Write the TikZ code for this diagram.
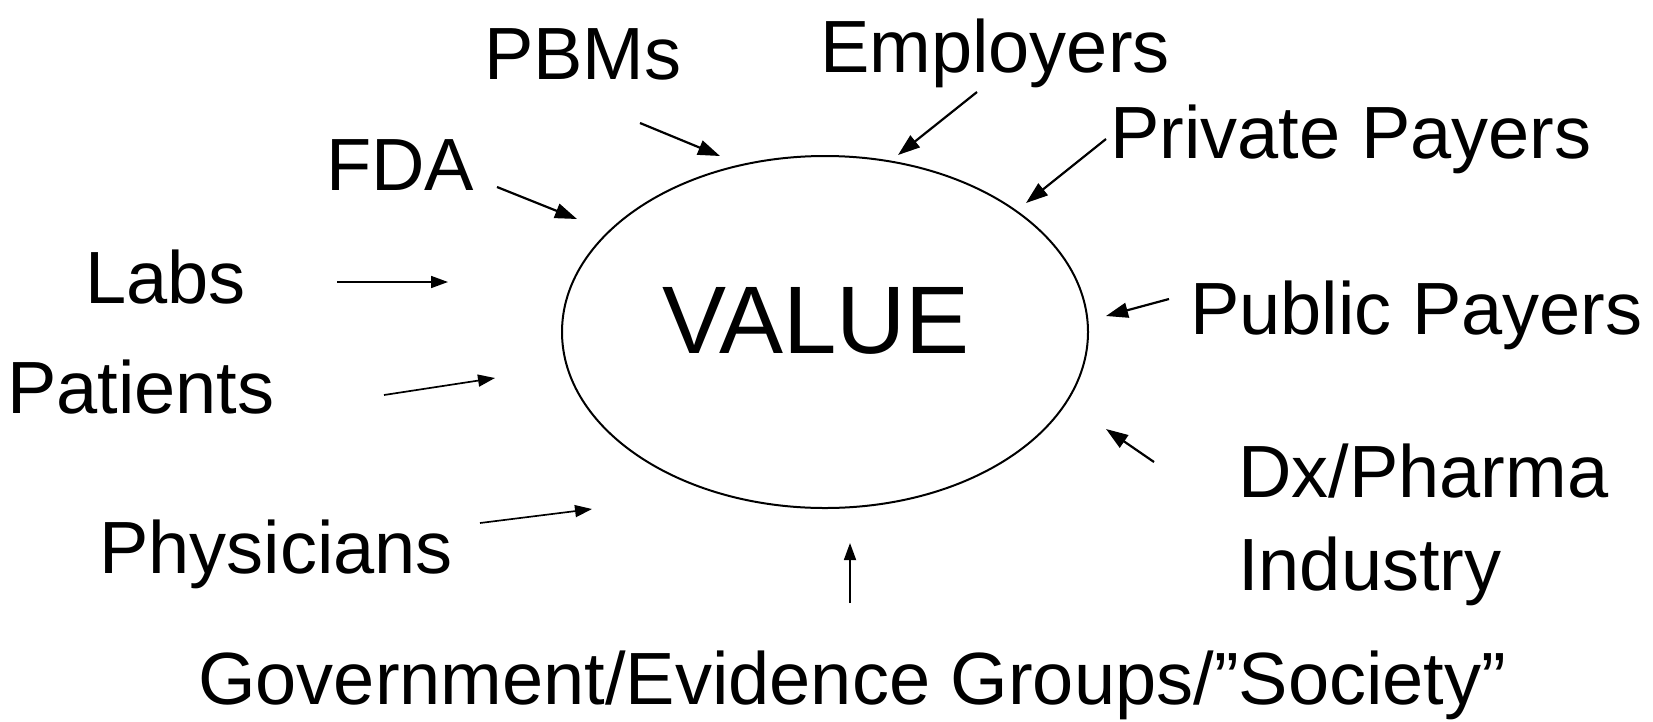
\documentclass[tikz,border=0pt]{standalone}
\usepackage{fontspec}
\setmainfont{Liberation Sans}
\usetikzlibrary{arrows.meta,shapes.geometric}
\tikzset{
  party/.style={anchor=base west,inner sep=0pt,font=\fontsize{74}{93}\selectfont},
  push/.style={line width=2.2pt,-{Triangle[length=22pt,width=15pt]}},
  thinpush/.style={line width=1.7pt,-{Triangle[length=17pt,width=12pt]}},
}
\begin{document}
\begin{tikzpicture}[x=1pt,y=-1pt]
    \useasboundingbox (0,0) rectangle (1653,721);
    \node[draw,ellipse,line width=2pt,inner sep=0pt,minimum width=526pt,minimum height=352pt,
      text depth=24pt,font=\fontsize{96}{110}\selectfont] (value) at (825,332) {VALUE\kern18pt};
    \node[party] (pbms) at (484,79) {PBMs};
    \node[party] (employers) at (820,72) {Employers};
    \node[party] (private) at (1110,158) {Private Payers};
    \node[party] (fda) at (326,190) {FDA};
    \node[party] (labs) at (85,303) {Labs};
    \node[party] (public) at (1190,334) {Public Payers};
    \node[party] (patients) at (7,413) {Patients};
    \node[party,align=left] (industry) at (1238,590) {Dx/Pharma\\Industry};
    \node[party] (physicians) at (99,573) {Physicians};
    \node[party] (society) at (198,704) {Government/Evidence Groups/”Society”};
    \coordinate (pbms0) at (640,123);    \coordinate (pbms1) at (720,156);
    \coordinate (empl0) at (977,92);     \coordinate (empl1) at (898,155);
    \coordinate (priv0) at (1106,139);   \coordinate (priv1) at (1026,203);
    \coordinate (fda0) at (497,187);     \coordinate (fda1) at (577,219);
    \coordinate (labs0) at (337,282);    \coordinate (labs1) at (448,282);
    \coordinate (publ0) at (1169,299);   \coordinate (publ1) at (1106,316);
    \coordinate (pati0) at (384,395);    \coordinate (pati1) at (495,378);
    \coordinate (indu0) at (1154,462);   \coordinate (indu1) at (1106,429);
    \coordinate (phys0) at (480,523);    \coordinate (phys1) at (592,509);
    \coordinate (soc0) at (850,603);     \coordinate (soc1) at (850,543);
    \draw[push](pbms0)--(pbms1);
    \draw[push](empl0)--(empl1);
    \draw[push](priv0)--(priv1);
    \draw[push](fda0)--(fda1);
    \draw[push](publ0)--(publ1);
    \draw[push](indu0)--(indu1);
    \draw[thinpush](labs0)--(labs1);
    \draw[thinpush](pati0)--(pati1);
    \draw[thinpush](phys0)--(phys1);
    \draw[thinpush](soc0)--(soc1);
\end{tikzpicture}
\end{document}
